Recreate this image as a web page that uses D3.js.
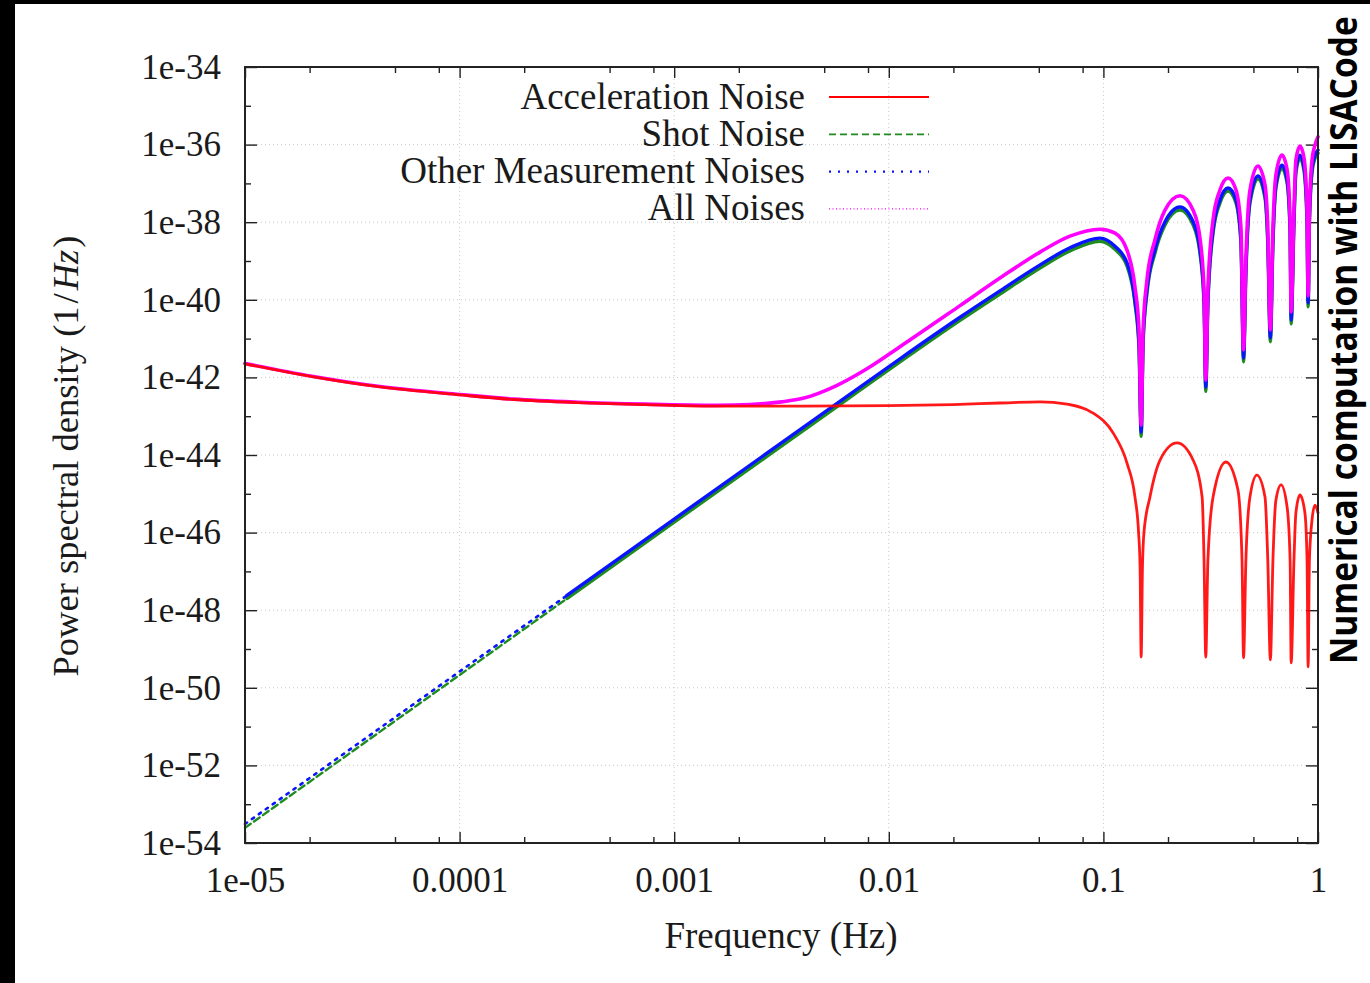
<!DOCTYPE html>
<html>
<head>
<meta charset="utf-8">
<script src="https://cdn.jsdelivr.net/npm/d3@7"></script>
<style>
  html, body { margin: 0; padding: 0; background: #fff; }
  svg { display: block; }
</style>
</head>
<body>
<svg id="chart" width="1370" height="983"></svg>
<script>
// Noise power spectral densities, stored as [log10(f / Hz), log10(PSD / Hz^-1)]
const accelNoise = [
  [-5.000,-41.65],[-4.688,-41.98],[-4.380,-42.24],[-4.000,-42.45],[-3.748,-42.57],
  [-3.448,-42.65],[-3.135,-42.70],[-2.800,-42.74],[-2.400,-42.74],[-2.000,-42.73],
  [-1.700,-42.70],[-1.482,-42.66],[-1.295,-42.63],[-1.170,-42.69],[-1.048,-42.92],
  [-0.955,-43.43],[-0.890,-44.21],[-0.853,-45.08],[-0.836,-46.00],[-0.829,-46.90],
  [-0.824,-49.21],
  [-0.818,-46.90],[-0.811,-46.00],[-0.783,-45.08],[-0.736,-44.13],[-0.657,-43.69],
  [-0.582,-44.13],[-0.540,-45.08],[-0.531,-46.71],[-0.523,-49.21],
  [-0.513,-46.71],[-0.489,-45.08],[-0.429,-44.18],[-0.373,-44.90],[-0.354,-46.71],[-0.347,-49.23],
  [-0.336,-46.71],[-0.317,-45.08],[-0.285,-44.52],[-0.247,-45.08],[-0.234,-46.71],[-0.222,-49.28],
  [-0.210,-46.71],[-0.196,-45.16],[-0.172,-44.77],[-0.144,-45.34],[-0.130,-46.71],[-0.125,-49.36],
  [-0.112,-46.71],[-0.103,-45.49],[-0.084,-45.03],[-0.061,-45.49],[-0.051,-46.71],[-0.046,-49.46],
  [-0.040,-46.71],[-0.028,-45.68],[-0.014,-45.29],[0.000,-45.49]
];

const shotNoise = [
  [-5.000,-53.61],[-4.000,-49.67],[-3.500,-47.70],[-3.000,-45.73],[-2.251,-42.79],[-1.948,-41.60],
  [-1.668,-40.53],[-1.482,-39.85],[-1.295,-39.18],[-1.156,-38.74],[-1.016,-38.49],
  [-0.946,-38.70],[-0.890,-39.13],[-0.853,-40.09],[-0.834,-41.26],[-0.824,-43.52],
  [-0.815,-41.13],[-0.797,-39.83],[-0.760,-38.80],[-0.713,-38.07],[-0.643,-37.69],
  [-0.582,-38.07],[-0.550,-38.80],[-0.531,-40.10],[-0.523,-42.36],
  [-0.513,-40.10],[-0.489,-38.28],[-0.457,-37.51],[-0.419,-37.20],[-0.382,-37.51],[-0.359,-38.55],[-0.347,-41.60],
  [-0.336,-39.32],[-0.317,-37.51],[-0.280,-36.89],[-0.247,-37.38],[-0.234,-38.55],[-0.222,-41.08],
  [-0.210,-38.55],[-0.196,-37.12],[-0.168,-36.61],[-0.144,-36.99],[-0.130,-38.29],[-0.125,-40.62],
  [-0.112,-38.03],[-0.103,-36.73],[-0.084,-36.35],[-0.065,-36.68],[-0.051,-38.03],[-0.046,-40.18],
  [-0.040,-38.03],[-0.028,-36.73],[-0.014,-36.35],[0.000,-36.22]
];

const otherNoise = [
  [-5.000,-53.51],[-4.000,-49.58],[-3.500,-47.62],[-3.000,-45.65],[-2.251,-42.71],[-1.948,-41.52],
  [-1.668,-40.45],[-1.482,-39.77],[-1.295,-39.10],[-1.156,-38.66],[-1.016,-38.41],
  [-0.946,-38.62],[-0.890,-39.05],[-0.853,-40.01],[-0.834,-41.16],[-0.824,-43.41],
  [-0.815,-41.03],[-0.797,-39.75],[-0.760,-38.72],[-0.713,-37.99],[-0.643,-37.61],
  [-0.582,-37.99],[-0.550,-38.72],[-0.531,-40.01],[-0.523,-42.25],
  [-0.513,-40.01],[-0.489,-38.20],[-0.457,-37.43],[-0.419,-37.12],[-0.382,-37.43],[-0.359,-38.46],[-0.347,-41.50],
  [-0.336,-39.23],[-0.317,-37.43],[-0.280,-36.81],[-0.247,-37.30],[-0.234,-38.46],[-0.222,-40.98],
  [-0.210,-38.46],[-0.196,-37.04],[-0.168,-36.53],[-0.144,-36.91],[-0.130,-38.20],[-0.125,-40.52],
  [-0.112,-37.94],[-0.103,-36.65],[-0.084,-36.27],[-0.065,-36.60],[-0.051,-37.94],[-0.046,-40.08],
  [-0.040,-37.94],[-0.028,-36.65],[-0.014,-36.27],[0.000,-36.14]
];

const allNoise = [
  [-5.000,-41.64],[-4.688,-41.97],[-4.380,-42.23],[-4.000,-42.44],[-3.748,-42.56],
  [-3.448,-42.64],[-3.135,-42.69],[-2.800,-42.72],[-2.647,-42.70],[-2.500,-42.63],
  [-2.400,-42.54],[-2.251,-42.23],[-2.100,-41.77],[-1.948,-41.21],[-1.668,-40.15],
  [-1.482,-39.44],[-1.295,-38.77],[-1.156,-38.36],[-1.016,-38.18],[-0.946,-38.28],
  [-0.890,-38.72],[-0.853,-39.67],[-0.834,-40.78],[-0.824,-43.23],
  [-0.815,-40.78],[-0.797,-39.49],[-0.760,-38.46],[-0.713,-37.69],[-0.643,-37.32],
  [-0.582,-37.69],[-0.550,-38.41],[-0.531,-39.75],[-0.523,-42.07],
  [-0.513,-39.75],[-0.489,-37.94],[-0.457,-37.17],[-0.419,-36.86],[-0.382,-37.17],[-0.359,-38.15],[-0.347,-41.29],
  [-0.336,-38.97],[-0.317,-37.17],[-0.280,-36.55],[-0.247,-37.04],[-0.234,-38.15],[-0.222,-40.78],
  [-0.210,-38.15],[-0.196,-36.78],[-0.168,-36.27],[-0.144,-36.65],[-0.130,-37.94],[-0.125,-40.31],
  [-0.112,-37.69],[-0.103,-36.40],[-0.084,-36.04],[-0.065,-36.35],[-0.051,-37.69],[-0.046,-39.90],
  [-0.040,-37.69],[-0.028,-36.40],[-0.014,-36.01],[0.000,-35.80]
];

const seriesNames = ["Acceleration Noise", "Shot Noise", "Other Measurement Noises", "All Noises"];

const xTickValues = [1e-5, 1e-4, 1e-3, 1e-2, 1e-1, 1];
const xTickLabels = ["1e-05", "0.0001", "0.001", "0.01", "0.1", "1"];
const xMinorMultipliers = [2, 5, 8];

const yTickExponents = [-34, -36, -38, -40, -42, -44, -46, -48, -50, -52, -54];
const yTickLabels = ["1e-34", "1e-36", "1e-38", "1e-40", "1e-42", "1e-44", "1e-46", "1e-48", "1e-50", "1e-52", "1e-54"];

const xTitle = "Frequency (Hz)";
const sideNote = "Numerical computation with LISACode";

// ---- layout ----
const W = 1370, H = 983;
const plot = { left: 245, right: 1318, top: 67, bottom: 843 };
const serif = "'Liberation Serif', 'Times New Roman', serif";
const tickFont = 35;
const titleFont = 37;

const svg = d3.select("#chart");

// page frame: dark bands on the top and left edges
svg.append("rect").attr("x", 0).attr("y", 0).attr("width", W).attr("height", H).attr("fill", "#fff");
svg.append("rect").attr("x", 0).attr("y", 0).attr("width", W).attr("height", 4).attr("fill", "#000");
svg.append("rect").attr("x", 0).attr("y", 0).attr("width", 15).attr("height", H).attr("fill", "#000");

const x = d3.scaleLog().domain([1e-5, 1]).range([plot.left, plot.right]);
const y = d3.scaleLog().domain([1e-54, 1e-34]).range([plot.bottom, plot.top]);

const yTickValues = yTickExponents.map(e => Math.pow(10, e));
const yMinorValues = d3.range(-35, -54, -2).map(e => Math.pow(10, e));
const xMinorValues = [];
xTickValues.slice(0, -1).forEach(d => xMinorMultipliers.forEach(m => xMinorValues.push(d * m)));

// ---- grid ----
const grid = svg.append("g").attr("stroke", "#c8c8c8").attr("stroke-width", 1).attr("stroke-dasharray", "1,3");
grid.selectAll("line.gx").data(xTickValues.slice(1, -1)).join("line")
  .attr("x1", d => x(d)).attr("x2", d => x(d)).attr("y1", plot.top).attr("y2", plot.bottom);
grid.selectAll("line.gy").data(yTickValues.slice(1, -1)).join("line")
  .attr("y1", d => y(d)).attr("y2", d => y(d)).attr("x1", plot.left).attr("x2", plot.right);

// ---- axes (ticks on all four sides, pointing inward) ----
function styleAxis(g) {
  g.select(".domain").remove();
  g.selectAll(".tick line").attr("stroke", "#222").attr("stroke-width", 1.4);
  g.selectAll(".tick text").attr("font-family", serif).attr("font-size", tickFont).attr("fill", "#1a1a1a");
}

svg.append("g").attr("transform", `translate(0,${plot.bottom})`)
  .call(d3.axisBottom(x).tickValues(xTickValues).tickFormat((d, i) => xTickLabels[i]).tickSize(-11).tickPadding(24))
  .call(styleAxis)
  .call(g => g.selectAll(".tick text").attr("dy", "0.71em"));
svg.append("g").attr("transform", `translate(0,${plot.bottom})`)
  .call(d3.axisBottom(x).tickValues(xMinorValues).tickFormat("").tickSize(-6)).call(styleAxis);
svg.append("g").attr("transform", `translate(0,${plot.top})`)
  .call(d3.axisTop(x).tickValues(xTickValues).tickFormat("").tickSize(-11)).call(styleAxis);
svg.append("g").attr("transform", `translate(0,${plot.top})`)
  .call(d3.axisTop(x).tickValues(xMinorValues).tickFormat("").tickSize(-6)).call(styleAxis);

svg.append("g").attr("transform", `translate(${plot.left},0)`)
  .call(d3.axisLeft(y).tickValues(yTickValues).tickFormat((d, i) => yTickLabels[i]).tickSize(-12).tickPadding(24))
  .call(styleAxis);
svg.append("g").attr("transform", `translate(${plot.left},0)`)
  .call(d3.axisLeft(y).tickValues(yMinorValues).tickFormat("").tickSize(-6)).call(styleAxis);
svg.append("g").attr("transform", `translate(${plot.right},0)`)
  .call(d3.axisRight(y).tickValues(yTickValues).tickFormat("").tickSize(-12)).call(styleAxis);
svg.append("g").attr("transform", `translate(${plot.right},0)`)
  .call(d3.axisRight(y).tickValues(yMinorValues).tickFormat("").tickSize(-6)).call(styleAxis);

// ---- curves ----
const line = d3.line()
  .x(d => x(Math.pow(10, d[0])))
  .y(d => y(Math.pow(10, d[1])))
  .curve(d3.curveMonotoneX);

const curves = svg.append("g")
  .attr("fill", "none").attr("stroke-linejoin", "round").attr("stroke-linecap", "round");

const colors = { accel: "#ff0000", shot: "#1f8c1f", other: "#0a14ff", all: "#ff00ff" };
const splitLog = -3.5; // sparse, patterned part of the spectrum below this frequency

// shot noise: dashed where the samples are sparse, dense above
curves.append("path").datum(shotNoise.filter(d => d[0] <= splitLog))
  .attr("d", line).attr("stroke", colors.shot).attr("stroke-width", 2.4).attr("stroke-dasharray", "7,4");
curves.append("path").datum(shotNoise.filter(d => d[0] >= splitLog))
  .attr("d", line).attr("stroke", colors.shot).attr("stroke-width", 3.4);

// other measurement noises: dotted in the sparse part
curves.append("path").datum(otherNoise.filter(d => d[0] <= splitLog))
  .attr("d", line).attr("stroke", colors.other).attr("stroke-width", 2.6).attr("stroke-dasharray", "2.5,6");
curves.append("path").datum(otherNoise.filter(d => d[0] >= splitLog))
  .attr("d", line).attr("stroke", colors.other).attr("stroke-width", 3.4);

// total noise
curves.append("path").datum(allNoise)
  .attr("d", line).attr("stroke", colors.all).attr("stroke-width", 3.6);

// acceleration noise on top
curves.append("path").datum(accelNoise)
  .attr("d", line).attr("stroke", colors.accel).attr("stroke-width", 2.8).attr("stroke-opacity", 0.9);

// ---- frame ----
svg.append("rect")
  .attr("x", plot.left).attr("y", plot.top)
  .attr("width", plot.right - plot.left).attr("height", plot.bottom - plot.top)
  .attr("fill", "none").attr("stroke", "#222").attr("stroke-width", 2);

// ---- legend ----
const legendStyles = [
  { color: colors.accel, width: 2.2, dash: null },
  { color: colors.shot, width: 1.8, dash: "7,4" },
  { color: colors.other, width: 2.2, dash: "2,7" },
  { color: colors.all, width: 1.4, dash: "1,2.5" }
];
const legend = svg.append("g");
const legendRows = legend.selectAll("g").data(seriesNames).join("g")
  .attr("transform", (d, i) => `translate(0,${97 + i * 37.3})`);
legendRows.append("text")
  .attr("x", 805).attr("y", 11.5)
  .attr("text-anchor", "end")
  .attr("font-family", serif).attr("font-size", titleFont).attr("fill", "#1a1a1a")
  .text(d => d);
legendRows.append("line")
  .attr("x1", 829).attr("x2", 929).attr("y1", 0).attr("y2", 0)
  .attr("stroke", (d, i) => legendStyles[i].color)
  .attr("stroke-width", (d, i) => legendStyles[i].width)
  .attr("stroke-dasharray", (d, i) => legendStyles[i].dash);

// ---- axis titles ----
svg.append("text")
  .attr("x", 781).attr("y", 948)
  .attr("text-anchor", "middle")
  .attr("font-family", serif).attr("font-size", titleFont).attr("fill", "#1a1a1a")
  .text(xTitle);

const yTitle = svg.append("text")
  .attr("transform", "translate(78,456) rotate(-90)")
  .attr("text-anchor", "middle")
  .attr("font-family", serif).attr("font-size", 36.5).attr("fill", "#1a1a1a");
yTitle.append("tspan").text("Power spectral density (1");
yTitle.append("tspan").attr("dx", 3).text("/");
yTitle.append("tspan").attr("dx", 3).attr("font-style", "italic").text("Hz");
yTitle.append("tspan").attr("dx", 2).text(")");

// ---- side note: condensed bold caption running up the right edge ----
const noteLength = 648;
const note = svg.append("text")
  .attr("font-family", "'Open Sans', 'DejaVu Sans', sans-serif")
  .attr("font-weight", 700).attr("font-size", 38).attr("fill", "#000")
  .text(sideNote);
const naturalLength = note.node().getComputedTextLength();
note.attr("transform", `translate(1357,664) rotate(-90) scale(${noteLength / naturalLength},1)`);
</script>
</body>
</html>
